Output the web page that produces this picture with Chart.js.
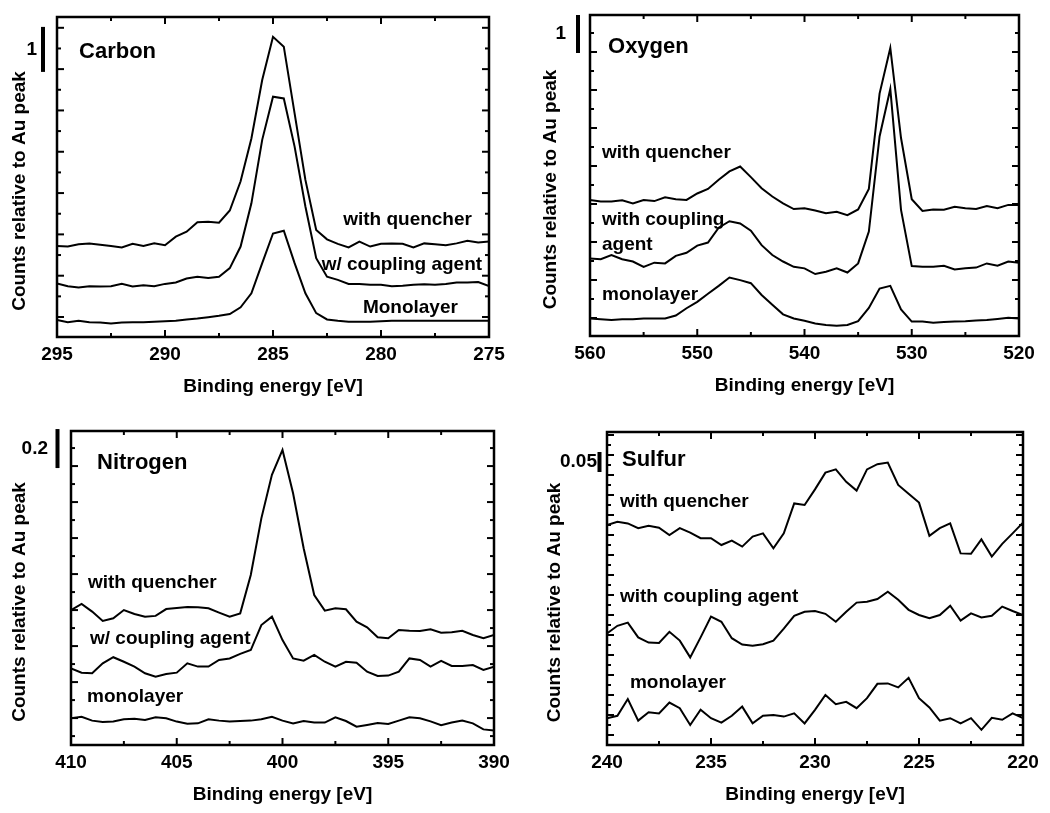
<!DOCTYPE html>
<html>
<head>
<meta charset="utf-8">
<script src="https://cdn.jsdelivr.net/npm/chart.js@4.4.0/dist/chart.umd.min.js"></script>
<style>
  html, body { margin: 0; padding: 0; background: #fff; }
  #wrap { position: relative; width: 1050px; height: 813px; }
  canvas { position: absolute; }
</style>
</head>
<body>
<div id="wrap">
  <canvas id="carbon" width="525" height="400" style="left:0;top:0"></canvas>
  <canvas id="oxygen" width="525" height="400" style="left:525px;top:0"></canvas>
  <canvas id="nitrogen" width="525" height="413" style="left:0;top:400px"></canvas>
  <canvas id="sulfur" width="525" height="413" style="left:525px;top:400px"></canvas>
</div>
<script>
// Binding energies [eV] and counts relative to Au peak
const carbonEnergy = [295, 294.5, 294, 293.5, 293, 292.5, 292, 291.5, 291, 290.5, 290, 289.5, 289, 288.5, 288, 287.5, 287, 286.5, 286, 285.5,
    285, 284.5, 284, 283.5, 283, 282.5, 282, 281.5, 281, 280.5, 280, 279.5, 279, 278.5, 278, 277.5, 277, 276.5, 276, 275.5, 275];
const carbonQuencher = [2.02, 2.01, 2.06, 2.08, 2.05, 2.02, 1.99, 2.07, 2.02, 2.08, 2.04, 2.23, 2.34, 2.55, 2.56, 2.54, 2.81, 3.46, 4.41, 5.71,
    6.67, 6.45, 4.97, 3.49, 2.38, 2.17, 2.07, 1.99, 2.12, 2.01, 2.07, 2.08, 2.07, 1.99, 2.08, 2.06, 2.04, 2.08, 2.14, 2.10, 2.12];
const carbonCoupling = [1.19, 1.13, 1.10, 1.13, 1.12, 1.13, 1.18, 1.12, 1.15, 1.13, 1.18, 1.21, 1.30, 1.34, 1.31, 1.34, 1.53, 2.01, 2.97, 4.38,
    5.34, 5.30, 4.23, 2.90, 1.75, 1.34, 1.27, 1.18, 1.18, 1.16, 1.16, 1.13, 1.14, 1.16, 1.17, 1.16, 1.18, 1.21, 1.21, 1.22, 1.13];
const carbonMonolayer = [0.38, 0.33, 0.36, 0.33, 0.32, 0.30, 0.32, 0.33, 0.33, 0.34, 0.35, 0.36, 0.39, 0.41, 0.44, 0.47, 0.51, 0.66, 0.97, 1.64,
    2.30, 2.36, 1.64, 0.97, 0.53, 0.39, 0.36, 0.34, 0.34, 0.34, 0.35, 0.36, 0.36, 0.36, 0.36, 0.36, 0.36, 0.36, 0.36, 0.36, 0.36];
const carbonTicks = [295, 290, 285, 280, 275];

const oxygenEnergy = [560, 559, 558, 557, 556, 555, 554, 553, 552, 551, 550, 549, 548, 547, 546, 545, 544, 543, 542, 541,
    540, 539, 538, 537, 536, 535, 534, 533, 532, 531, 530, 529, 528, 527, 526, 525, 524, 523, 522, 521, 520];
const oxygenQuencher = [3.58, 3.54, 3.54, 3.57, 3.49, 3.58, 3.55, 3.65, 3.60, 3.58, 3.75, 3.87, 4.11, 4.33, 4.46, 4.18, 3.89, 3.67, 3.49, 3.34,
    3.36, 3.30, 3.23, 3.27, 3.18, 3.33, 3.87, 6.38, 7.58, 5.21, 3.60, 3.29, 3.33, 3.32, 3.40, 3.36, 3.34, 3.42, 3.36, 3.45, 3.45];
const oxygenCoupling = [2.04, 2.02, 2.13, 2.02, 1.96, 1.82, 1.93, 1.91, 2.11, 2.19, 2.38, 2.46, 2.85, 3.02, 2.96, 2.77, 2.39, 2.13, 1.96, 1.82,
    1.78, 1.63, 1.69, 1.78, 1.67, 1.91, 2.75, 5.25, 6.50, 3.32, 1.84, 1.82, 1.82, 1.85, 1.75, 1.78, 1.80, 1.91, 1.85, 1.96, 1.93];
const oxygenMonolayer = [0.46, 0.44, 0.42, 0.44, 0.44, 0.46, 0.46, 0.46, 0.54, 0.73, 0.90, 1.11, 1.32, 1.54, 1.47, 1.39, 1.08, 0.82, 0.57, 0.46,
    0.40, 0.33, 0.29, 0.27, 0.29, 0.39, 0.74, 1.25, 1.32, 0.70, 0.38, 0.38, 0.35, 0.37, 0.38, 0.39, 0.41, 0.42, 0.45, 0.48, 0.46];
const oxygenTicks = [560, 550, 540, 530, 520];

const nitrogenEnergy = [410, 409.5, 409, 408.5, 408, 407.5, 407, 406.5, 406, 405.5, 405, 404.5, 404, 403.5, 403, 402.5, 402, 401.5, 401, 400.5,
    400, 399.5, 399, 398.5, 398, 397.5, 397, 396.5, 396, 395.5, 395, 394.5, 394, 393.5, 393, 392.5, 392, 391.5, 391, 390.5, 390];
const nitrogenQuencher = [0.692, 0.723, 0.684, 0.636, 0.650, 0.692, 0.672, 0.658, 0.662, 0.697, 0.703, 0.708, 0.706, 0.701, 0.679, 0.658, 0.675, 0.872, 1.162, 1.385,
    1.513, 1.291, 1.009, 0.769, 0.689, 0.701, 0.696, 0.632, 0.603, 0.552, 0.547, 0.590, 0.586, 0.585, 0.593, 0.576, 0.578, 0.586, 0.564, 0.547, 0.564];
const nitrogenCoupling = [0.393, 0.371, 0.368, 0.419, 0.450, 0.427, 0.402, 0.368, 0.350, 0.364, 0.371, 0.419, 0.402, 0.402, 0.436, 0.444, 0.467, 0.487, 0.615, 0.658,
    0.538, 0.444, 0.432, 0.462, 0.427, 0.402, 0.427, 0.422, 0.376, 0.354, 0.356, 0.376, 0.444, 0.436, 0.402, 0.431, 0.405, 0.405, 0.410, 0.385, 0.402];
const nitrogenMonolayer = [0.137, 0.145, 0.125, 0.118, 0.121, 0.132, 0.135, 0.128, 0.142, 0.137, 0.120, 0.109, 0.111, 0.132, 0.125, 0.120, 0.123, 0.125, 0.132, 0.145,
    0.125, 0.111, 0.123, 0.115, 0.115, 0.142, 0.123, 0.094, 0.103, 0.113, 0.108, 0.125, 0.142, 0.137, 0.121, 0.101, 0.115, 0.125, 0.111, 0.080, 0.074];
const nitrogenTicks = [410, 405, 400, 395, 390];

const sulfurEnergy = [240, 239.5, 239, 238.5, 238, 237.5, 237, 236.5, 236, 235.5, 235, 234.5, 234, 233.5, 233, 232.5, 232, 231.5, 231, 230.5,
    230, 229.5, 229, 228.5, 228, 227.5, 227, 226.5, 226, 225.5, 225, 224.5, 224, 223.5, 223, 222.5, 222, 221.5, 221, 220.5, 220];
const sulfurQuencher = [0.550, 0.558, 0.554, 0.542, 0.548, 0.543, 0.525, 0.542, 0.531, 0.517, 0.517, 0.500, 0.511, 0.496, 0.521, 0.529, 0.492, 0.529, 0.604, 0.600,
    0.639, 0.681, 0.689, 0.658, 0.636, 0.689, 0.702, 0.706, 0.650, 0.628, 0.606, 0.523, 0.542, 0.554, 0.479, 0.478, 0.514, 0.471, 0.503, 0.529, 0.556];
const sulfurCoupling = [0.279, 0.298, 0.306, 0.269, 0.256, 0.255, 0.283, 0.261, 0.219, 0.269, 0.321, 0.308, 0.267, 0.251, 0.248, 0.252, 0.261, 0.291, 0.323, 0.333,
    0.335, 0.328, 0.308, 0.333, 0.356, 0.358, 0.365, 0.383, 0.363, 0.338, 0.325, 0.317, 0.325, 0.348, 0.311, 0.329, 0.319, 0.323, 0.346, 0.335, 0.325];
const sulfurMonolayer = [0.067, 0.073, 0.115, 0.061, 0.082, 0.079, 0.106, 0.092, 0.050, 0.088, 0.067, 0.056, 0.073, 0.096, 0.054, 0.073, 0.075, 0.071, 0.079, 0.054,
    0.088, 0.125, 0.102, 0.108, 0.092, 0.117, 0.153, 0.154, 0.144, 0.168, 0.117, 0.094, 0.061, 0.067, 0.054, 0.067, 0.038, 0.068, 0.063, 0.079, 0.067];
const sulfurTicks = [240, 235, 230, 225, 220];

const FAMILY = "'Liberation Sans', Arial, sans-serif";
const X_TITLE = 'Binding energy [eV]';
const Y_TITLE = 'Counts relative to Au peak';

const panels = [
    {
        id: 'carbon', energy: carbonEnergy, series: [carbonQuencher, carbonCoupling, carbonMonolayer], ticks: carbonTicks,
        xMin: 275, xMax: 295, xMajor: 5, xMinor: 2.5, yMax: 7.11, yMajorStart: 0.444, yMajorStep: 0.918,
        area: { left: 57, top: 17, right: 489, bottom: 337 }, yTitleX: 20,
        bar: { top: 6.89, size: 1, text: '1', dx: 14, gap: 6 },
        labels: [
            { text: 'Carbon', x: 293.98, y: 6.33, align: 'left', size: 22 },
            { text: 'with quencher', x: 275.79, y: 2.6, align: 'right' },
            { text: 'w/ coupling agent', x: 275.32, y: 1.6, align: 'right' },
            { text: 'Monolayer', x: 276.44, y: 0.644, align: 'right' }
        ]
    },
    {
        id: 'oxygen', energy: oxygenEnergy, series: [oxygenQuencher, oxygenCoupling, oxygenMonolayer], ticks: oxygenTicks,
        xMin: 520, xMax: 560, xMajor: 10, xMinor: 5, yMax: 8.447, yMajorStart: 0.474, yMajorStep: 1,
        area: { left: 65, top: 15, right: 494, bottom: 336 }, yTitleX: 26,
        bar: { top: 8.447, size: 1, text: '1', dx: 12, gap: 12 },
        labels: [
            { text: 'Oxygen', x: 558.32, y: 7.61, align: 'left', size: 22 },
            { text: 'with quencher', x: 558.88, y: 4.82, align: 'left' },
            { text: 'with coupling', x: 558.88, y: 3.05, align: 'left' },
            { text: 'agent', x: 558.88, y: 2.39, align: 'left' },
            { text: 'monolayer', x: 558.88, y: 1.08, align: 'left' }
        ]
    },
    {
        id: 'nitrogen', energy: nitrogenEnergy, series: [nitrogenQuencher, nitrogenCoupling, nitrogenMonolayer], ticks: nitrogenTicks,
        xMin: 390, xMax: 410, xMajor: 5, xMinor: 2.5, yMax: 1.61, yMajorStart: 0.138, yMajorStep: 0.1846,
        area: { left: 71, top: 31, right: 494, bottom: 345 }, yTitleX: 20,
        bar: { top: 1.62, size: 0.2, text: '0.2', dx: 13.5, gap: 9.5 },
        labels: [
            { text: 'Nitrogen', x: 408.77, y: 1.446, align: 'left', size: 22 },
            { text: 'with quencher', x: 409.2, y: 0.831, align: 'left' },
            { text: 'w/ coupling agent', x: 409.1, y: 0.544, align: 'left' },
            { text: 'monolayer', x: 409.24, y: 0.246, align: 'left' }
        ]
    },
    {
        id: 'sulfur', energy: sulfurEnergy, series: [sulfurQuencher, sulfurCoupling, sulfurMonolayer], ticks: sulfurTicks,
        xMin: 220, xMax: 240, xMajor: 5, xMinor: 2.5, yMax: 0.7825, yMajorStart: 0.025, yMajorStep: 0.05,
        area: { left: 82, top: 32, right: 498, bottom: 345 }, yTitleX: 30,
        bar: { top: 0.7325, size: 0.05, text: '0.05', dx: 7.5, gap: 2.5 },
        labels: [
            { text: 'Sulfur', x: 239.28, y: 0.7125, align: 'left', size: 22 },
            { text: 'with quencher', x: 239.38, y: 0.6075, align: 'left' },
            { text: 'with coupling agent', x: 239.38, y: 0.37, align: 'left' },
            { text: 'monolayer', x: 238.9, y: 0.155, align: 'left' }
        ]
    }
];

function font(size) {
    return `bold ${size}px ${FAMILY}`;
}

// frame, inward ticks, scale bar and the texts inside the plot
function framePlugin(p) {
    return {
        id: 'frame',
        afterDraw(chart) {
            const ctx = chart.ctx;
            const { left, right, top, bottom } = chart.chartArea;
            const xs = chart.scales.x, ys = chart.scales.y;
            const seg = (x1, y1, x2, y2) => { ctx.beginPath(); ctx.moveTo(x1, y1); ctx.lineTo(x2, y2); ctx.stroke(); };

            ctx.save();
            ctx.strokeStyle = '#000';
            ctx.fillStyle = '#000';

            ctx.lineWidth = 2;
            const nx = Math.round((p.xMax - p.xMin) / p.xMinor);
            for (let i = 1; i < nx; i++) {
                const e = p.xMin + i * p.xMinor;
                const px = xs.getPixelForValue(e);
                const len = (i * p.xMinor) % p.xMajor === 0 ? 7 : 4;
                seg(px, bottom, px, bottom - len);
                seg(px, top, px, top + len);
            }
            const h = p.yMajorStep / 2;
            for (let i = -Math.floor(p.yMajorStart / h); p.yMajorStart + i * h < p.yMax; i++) {
                const py = ys.getPixelForValue(p.yMajorStart + i * h);
                const len = Math.abs(i) % 2 === 0 ? 7 : 4;
                seg(left, py, left + len, py);
                seg(right, py, right - len, py);
            }

            ctx.lineWidth = 2.5;
            ctx.strokeRect(left, top, right - left, bottom - top);

            // scale bar
            const bx = left - p.bar.dx;
            const y1 = ys.getPixelForValue(p.bar.top);
            const y2 = ys.getPixelForValue(p.bar.top - p.bar.size);
            ctx.lineWidth = 4;
            seg(bx, y1, bx, y2);
            ctx.font = font(19);
            ctx.textAlign = 'right';
            ctx.textBaseline = 'middle';
            ctx.fillText(p.bar.text, bx - p.bar.gap, (y1 + y2) / 2);

            p.labels.forEach(l => {
                ctx.font = font(l.size || 19);
                ctx.textAlign = l.align;
                ctx.fillText(l.text, xs.getPixelForValue(l.x), ys.getPixelForValue(l.y));
            });

            ctx.translate(p.yTitleX, (top + bottom) / 2 + 14);
            ctx.rotate(-Math.PI / 2);
            ctx.textAlign = 'center';
            ctx.font = font(19);
            ctx.fillText(Y_TITLE, 0, 0);
            ctx.restore();
        }
    };
}

panels.forEach(p => {
    const canvas = document.getElementById(p.id);
    const W = canvas.width, H = canvas.height;
    const xHeight = H - p.area.bottom;

    new Chart(canvas, {
        type: 'line',
        data: {
            datasets: p.series.map(s => ({
                data: p.energy.map((e, i) => ({ x: e, y: s[i] })),
                borderColor: '#000',
                borderWidth: 2,
                pointRadius: 0,
                tension: 0,
                fill: false
            }))
        },
        options: {
            responsive: false,
            animation: false,
            devicePixelRatio: 1,
            layout: { padding: { left: 0, top: p.area.top, right: W - p.area.right, bottom: 0 } },
            plugins: { legend: { display: false }, tooltip: { enabled: false } },
            scales: {
                x: {
                    type: 'linear',
                    min: p.xMin,
                    max: p.xMax,
                    reverse: true,
                    grid: { display: false },
                    border: { display: false },
                    ticks: { color: '#000', font: { family: FAMILY, size: 19, weight: 'bold' }, padding: -2, maxRotation: 0, autoSkip: false },
                    afterBuildTicks: s => { s.ticks = p.ticks.map(v => ({ value: v })); },
                    title: {
                        display: true, text: X_TITLE, color: '#000',
                        font: { family: FAMILY, size: 19, weight: 'bold' },
                        padding: { top: 0, bottom: xHeight - 50 - 11.4 }
                    },
                    afterFit: s => { s.height = xHeight; }
                },
                y: {
                    type: 'linear',
                    min: 0,
                    max: p.yMax,
                    grid: { display: false },
                    border: { display: false },
                    ticks: { display: false },
                    afterFit: s => { s.width = p.area.left; }
                }
            }
        },
        plugins: [framePlugin(p)]
    });
});
</script>
</body>
</html>
